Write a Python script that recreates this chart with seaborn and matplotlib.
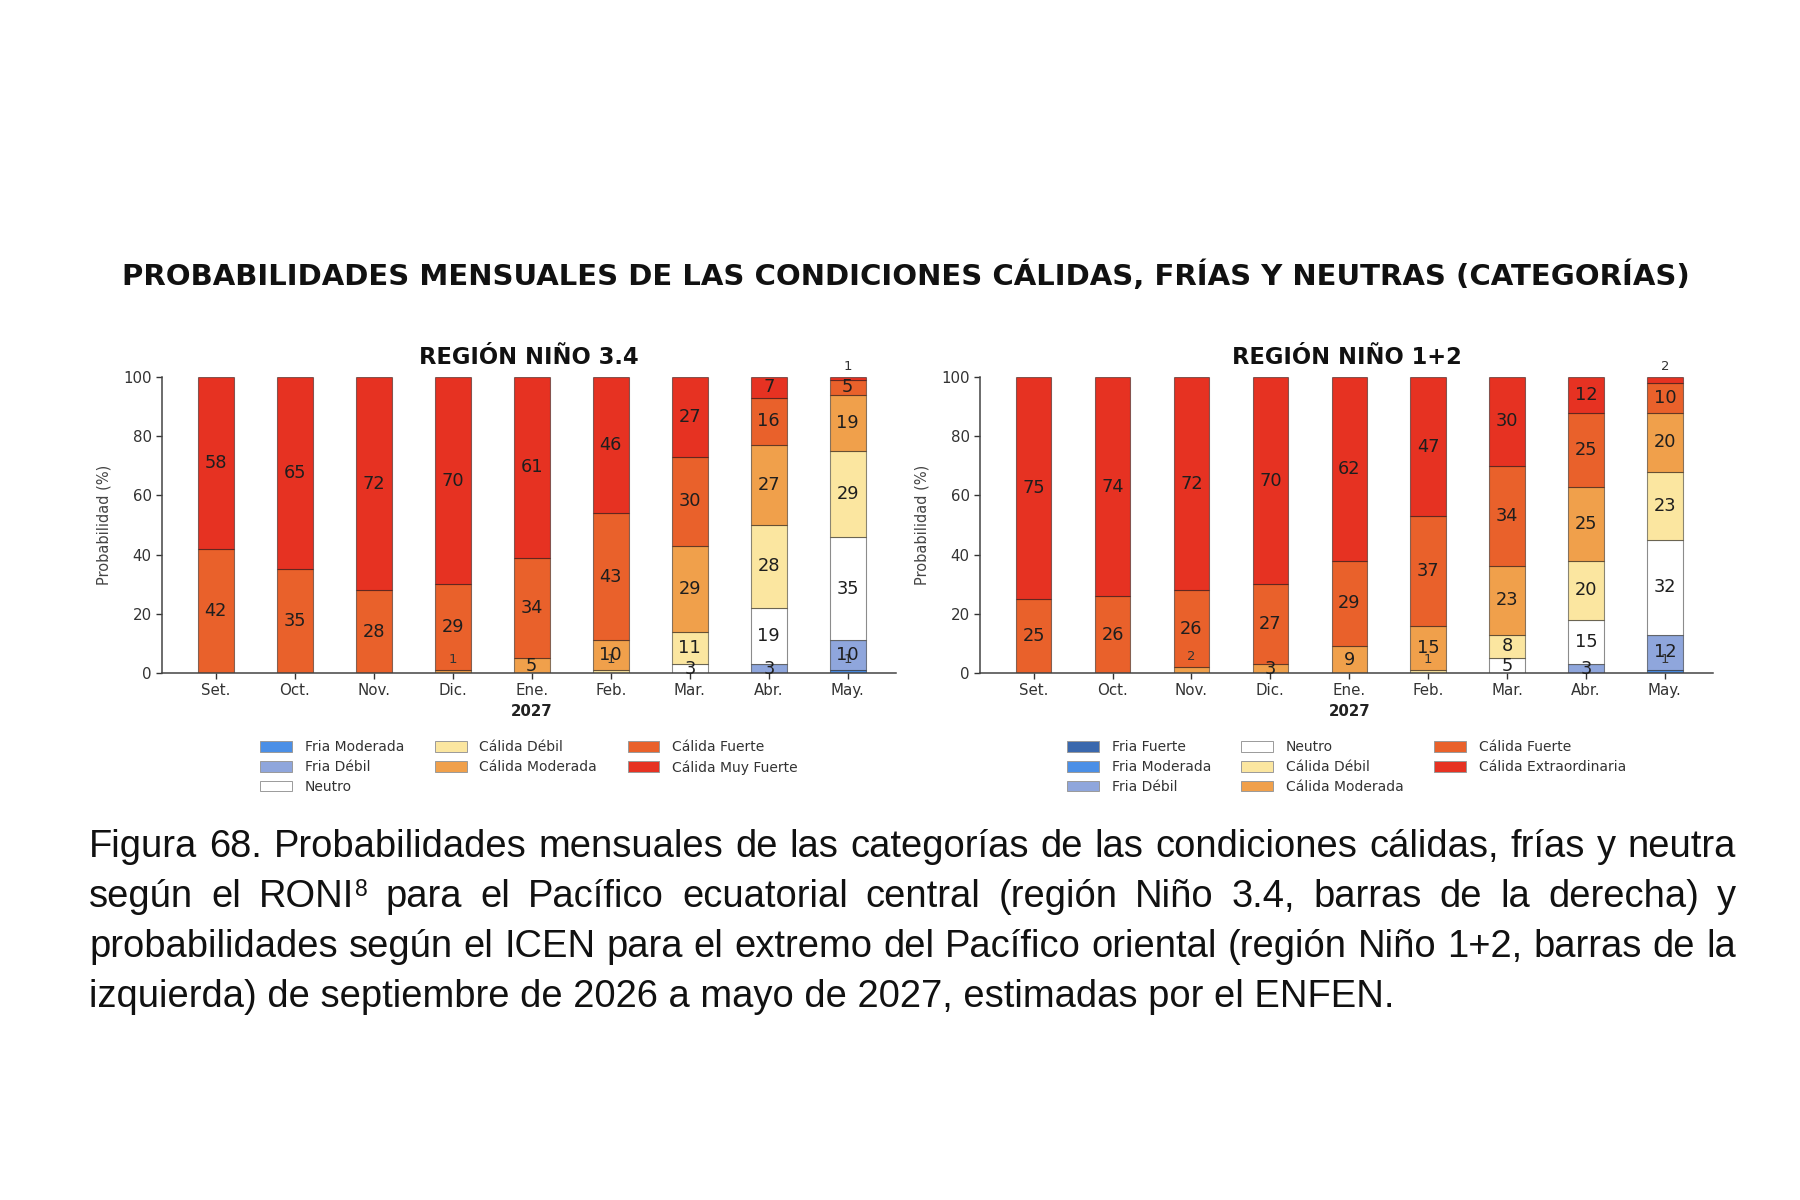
import numpy as np
import pandas as pd
import matplotlib
matplotlib.use("Agg")
import matplotlib.pyplot as plt
from matplotlib.patches import Patch
import seaborn as sns

# ---------------- data ----------------
months = ["Set.", "Oct.", "Nov.", "Dic.", "Ene.", "Feb.", "Mar.", "Abr.", "May."]

# Región Niño 3.4 (bottom -> top)
cats_34 = ["Fria Moderada", "Fria Débil", "Neutro", "Cálida Débil",
           "Cálida Moderada", "Cálida Fuerte", "Cálida Muy Fuerte"]
fria_moderada_34 = [0, 0, 0, 0, 0, 0, 0, 0, 1]
fria_debil_34 = [0, 0, 0, 0, 0, 0, 0, 3, 10]
neutro_34 = [0, 0, 0, 0, 0, 0, 3, 19, 35]
calida_debil_34 = [0, 0, 0, 0, 0, 1, 11, 28, 29]
calida_moderada_34 = [0, 0, 0, 1, 5, 10, 29, 27, 19]
calida_fuerte_34 = [42, 35, 28, 29, 34, 43, 30, 16, 5]
calida_muy_fuerte_34 = [58, 65, 72, 70, 61, 46, 27, 7, 1]

# Región Niño 1+2 (bottom -> top)
cats_12 = ["Fria Fuerte", "Fria Moderada", "Fria Débil", "Neutro", "Cálida Débil",
           "Cálida Moderada", "Cálida Fuerte", "Cálida Extraordinaria"]
fria_fuerte_12 = [0, 0, 0, 0, 0, 0, 0, 0, 0]
fria_moderada_12 = [0, 0, 0, 0, 0, 0, 0, 0, 1]
fria_debil_12 = [0, 0, 0, 0, 0, 0, 0, 3, 12]
neutro_12 = [0, 0, 0, 0, 0, 0, 5, 15, 32]
calida_debil_12 = [0, 0, 0, 0, 0, 1, 8, 20, 23]
calida_moderada_12 = [0, 0, 2, 3, 9, 15, 23, 25, 20]
calida_fuerte_12 = [25, 26, 26, 27, 29, 37, 34, 25, 10]
calida_extra_12 = [75, 74, 72, 70, 62, 47, 30, 12, 2]

palette = {
    "Fria Fuerte": "#3a68ad",
    "Fria Moderada": "#4b8fe6",
    "Fria Débil": "#8fa6dc",
    "Neutro": "#ffffff",
    "Cálida Débil": "#fbe6a0",
    "Cálida Moderada": "#f0a04b",
    "Cálida Fuerte": "#e9612b",
    "Cálida Muy Fuerte": "#e63222",
    "Cálida Extraordinaria": "#e63222",
}

suptitle = "PROBABILIDADES MENSUALES DE LAS CONDICIONES CÁLIDAS, FRÍAS Y NEUTRAS (CATEGORÍAS)"
title_34 = "REGIÓN NIÑO 3.4"
title_12 = "REGIÓN NIÑO 1+2"
ylabel = "Probabilidad (%)"
year_label = "2027"

caption_lines = [
    "Figura 68. Probabilidades mensuales de las categorías de las condiciones cálidas, frías y neutra",
    "según el RONI^8 para el Pacífico ecuatorial central (región Niño 3.4, barras de la derecha) y",
    "probabilidades según el ICEN para el extremo del Pacífico oriental (región Niño 1+2, barras de la",
    "izquierda) de septiembre de 2026 a mayo de 2027, estimadas por el ENFEN.",
]

series_34 = [fria_moderada_34, fria_debil_34, neutro_34, calida_debil_34,
             calida_moderada_34, calida_fuerte_34, calida_muy_fuerte_34]
series_12 = [fria_fuerte_12, fria_moderada_12, fria_debil_12, neutro_12, calida_debil_12,
             calida_moderada_12, calida_fuerte_12, calida_extra_12]

# ---------------- style ----------------
sns.set_style("ticks")
plt.rcParams["font.family"] = ["DejaVu Sans"]
CAP_FONT = ["Liberation Sans", "DejaVu Sans"]

W, H = 1800, 1200
fig = plt.figure(figsize=(18, 12), dpi=100)
fig.patch.set_facecolor("white")

ax34 = fig.add_axes([162 / W, 1 - 673 / H, 734 / W, 296 / H])
ax12 = fig.add_axes([980 / W, 1 - 673 / H, 733 / W, 296 / H])

EDGE = (0, 0, 0, 0.45)
TXT = "#1e1e1e"


def draw_region(ax, cats, series, title):
    rows = []
    for c, vals in zip(cats, series):
        for m, v in zip(months, vals):
            rows.append({"mes": m, "cat": c, "val": v})
    df = pd.DataFrame(rows)
    bottom = np.zeros(len(months))
    for c in cats:
        sub = df[df["cat"] == c]
        vals = sub.set_index("mes").loc[months, "val"].to_numpy(dtype=float)
        sns.barplot(data=sub, x="mes", y="val", order=months, color=palette[c],
                    saturation=1, width=0.45, errorbar=None, bottom=bottom.copy(),
                    edgecolor=EDGE, linewidth=0.8, ax=ax)
        for i, v in enumerate(vals):
            if v <= 0:
                continue
            if v < 3:
                ax.text(i, bottom[i] + v + 3.6, f"{int(v)}", ha="center", va="center",
                        fontsize=9.5, color="#333333")
            else:
                ax.text(i, bottom[i] + v / 2, f"{int(v)}", ha="center", va="center",
                        fontsize=12.8, color=TXT)
        bottom = bottom + vals

    ax.set_xlim(-0.68, 8.61)
    ax.set_ylim(0, 100)
    ax.set_yticks([0, 20, 40, 60, 80, 100])
    ax.set_xlabel("")
    ax.set_ylabel(ylabel, fontsize=10.5, color="#444444", labelpad=8)
    ax.tick_params(axis="both", labelsize=10.8, colors="#333333", length=4, width=1.0)
    for s in ["top", "right"]:
        ax.spines[s].set_visible(False)
    for s in ["left", "bottom"]:
        ax.spines[s].set_color("#444444")
        ax.spines[s].set_linewidth(1.1)
    ax.set_title(title, fontsize=16.3, fontweight="bold", pad=9, color="#111111")
    ax.annotate(year_label, xy=(months.index("Ene."), 0), xycoords=("data", "axes fraction"),
                xytext=(0, -28), textcoords="offset points", ha="center", va="center",
                fontsize=10.8, fontweight="bold", color="#222222")
    handles = [Patch(facecolor=palette[c], edgecolor="#9a9a9a", linewidth=0.7, label=c)
               for c in cats]
    ax.legend(handles=handles, loc="upper center", bbox_to_anchor=(0.5, -0.185), ncol=3,
              frameon=False, fontsize=10, handlelength=2.3, handleheight=0.8,
              handletextpad=0.9, columnspacing=2.2, labelspacing=0.42,
              labelcolor="#333333")


draw_region(ax34, cats_34, series_34, title_34)
draw_region(ax12, cats_12, series_12, title_12)

fig.text(906 / W, 1 - 276 / H, suptitle, ha="center", va="center", fontsize=21,
         fontweight="bold", color="#111111")

# ---------------- justified caption ----------------
fig.canvas.draw()
renderer = fig.canvas.get_renderer()


def text_width(s, fs):
    t = fig.text(0, 0, s, fontsize=fs, family=CAP_FONT)
    w = t.get_window_extent(renderer).width
    t.remove()
    return w


# fit font size so last (unjustified) line spans its natural width
fs = 24.0
fs = fs * (1301.0 / text_width(caption_lines[-1], fs))
sup_fs = fs * 0.6

left_px, right_px = 89.0, 1736.0
baselines = [857, 907, 957, 1007]

for li, line in enumerate(caption_lines):
    yb = 1 - baselines[li] / H
    if li == len(caption_lines) - 1:
        fig.text(left_px / W, yb, line, fontsize=fs, family=CAP_FONT, ha="left",
                 va="baseline", color="#111111")
        continue
    words = line.split(" ")
    widths = []
    for w in words:
        if "^" in w:
            base, sup = w.split("^")
            widths.append(text_width(base, fs) + text_width(sup, sup_fs) + 1)
        else:
            widths.append(text_width(w, fs))
    gap = (right_px - left_px - sum(widths)) / (len(words) - 1)
    x = left_px
    for w, wd in zip(words, widths):
        if "^" in w:
            base, sup = w.split("^")
            fig.text(x / W, yb, base, fontsize=fs, family=CAP_FONT, ha="left",
                     va="baseline", color="#111111")
            bw = text_width(base, fs)
            fig.text((x + bw + 1) / W, yb + 11 / H, sup, fontsize=sup_fs, family=CAP_FONT,
                     ha="left", va="baseline", color="#111111")
        else:
            fig.text(x / W, yb, w, fontsize=fs, family=CAP_FONT, ha="left",
                     va="baseline", color="#111111")
        x += wd + gap

fig.savefig("out.png", dpi=100, facecolor="white")
